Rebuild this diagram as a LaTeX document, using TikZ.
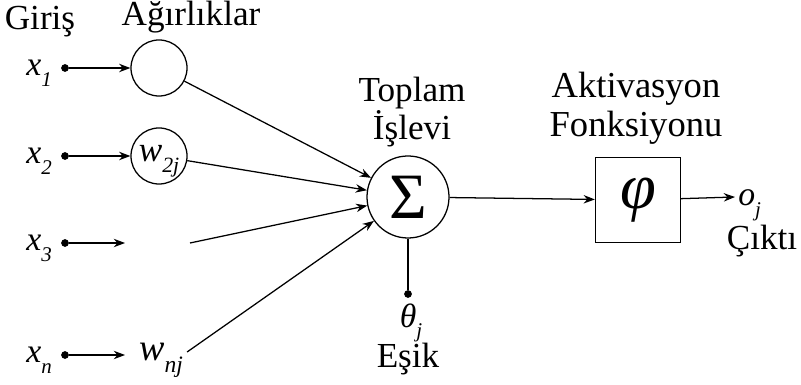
\documentclass[tikz,border=0pt]{standalone}
\usepackage{amsmath}
\usepackage{fontspec}
\setmainfont{Liberation Serif}
\usepackage{tikz}
\usetikzlibrary{positioning,arrows.meta,calc}

% italic symbol with a low, smaller subscript
\newcommand{\ivar}[2]{\textit{#1}\raisebox{-0.32em}{\fontsize{\the\dimexpr0.62\fontdimen6\font\relax}{0pt}\selectfont\textit{#2}}}

\begin{document}
\begin{tikzpicture}[x=0.025cm, y=-0.025cm,
  lbl/.style={font=\fontsize{25}{27}\selectfont, inner sep=0pt},
  sym/.style={font=\fontsize{24}{24}\selectfont, inner sep=0pt},
  weight/.style={circle, draw, line width=0.9pt, minimum size=1.4cm, inner sep=0pt,
                 font=\fontsize{25}{25}\selectfont},
  dot/.style={circle, fill, inner sep=0pt, minimum size=5.5pt},
  arrow/.style={-{Stealth[length=8pt, width=6pt]}, line width=0.9pt},
  line/.style={line width=0.9pt}
]
  \useasboundingbox (0,0) rectangle (801,385);

  % headings
  \node[lbl] (in) at (40,22) {Giriş};
  \node[lbl] (wt) at (191,17) {Ağırlıklar};
  \node[lbl, align=center] (sumlbl) at (412,112) {Toplam\\İşlevi};
  \node[lbl, align=center, font=\fontsize{26}{28}\selectfont] (actlbl) at (636,108) {Aktivasyon\\Fonksiyonu};

  % inputs
  \node[sym] (x1) at (39,73) {\ivar{x}{1}};
  \node[sym] (x2) at (39,161) {\ivar{x}{2}};
  \node[sym] (x3) at (39,248) {\ivar{x}{3}};
  \node[sym] (xn) at (39,360) {\ivar{x}{n}};
  \node[dot] (d1) at (65,68) {};
  \node[dot] (d2) at (65,156) {};
  \node[dot] (d3) at (65,243) {};
  \node[dot] (dn) at (65,355) {};

  % weights
  \node[weight] (w1) at (159,68) {};
  \node[weight] (w2) at (159,156) {\raisebox{-4pt}[\height][\depth]{\ivar{w}{2j}}};
  \coordinate (w3a) at (125,243);
  \coordinate (w3b) at (190,243);
  \node[sym, font=\fontsize{27}{27}\selectfont] (wn) at (161,360) {\ivar{w}{nj}};

  % summation, activation
  \node[circle, draw, line width=0.9pt, minimum size=2.05cm, inner sep=0pt,
        font=\fontsize{46}{46}\selectfont] (sum) at (408,197) {Σ};
  \node[rectangle, draw, line width=0.9pt, minimum size=2.125cm, inner sep=0pt,
        font=\fontsize{46}{46}\selectfont] (act) at (638,200) {\textit{φ}};
  \coordinate (out) at (735,197);
  \node[sym, anchor=west] (oj) at (738,205) {\ivar{o}{j}};
  \node[lbl] (cikti) at (762,241) {Çıktı};

  % threshold
  \node[dot] (th) at (408,294) {};
  \node[sym] (theta) at (411,323) {\ivar{θ}{j}};
  \node[lbl] (esik) at (408,359) {Eşik};

  \draw[arrow] (d1) -- (w1);
  \draw[arrow] (d2) -- (w2);
  \draw[arrow] (d3) -- (w3a);
  \draw[arrow] (dn) -- (125,355);

  \draw[arrow] (w1) -- (sum);
  \draw[arrow] (w2) -- (sum);
  \draw[arrow] (w3b) -- (sum);
  \draw[arrow] ($(wn.east)+(4,-8)$) -- (sum);

  \draw[line] (sum) -- (th);
  \draw[arrow] (sum) -- (act);
  \draw[arrow] (act) -- (out);
\end{tikzpicture}
\end{document}
